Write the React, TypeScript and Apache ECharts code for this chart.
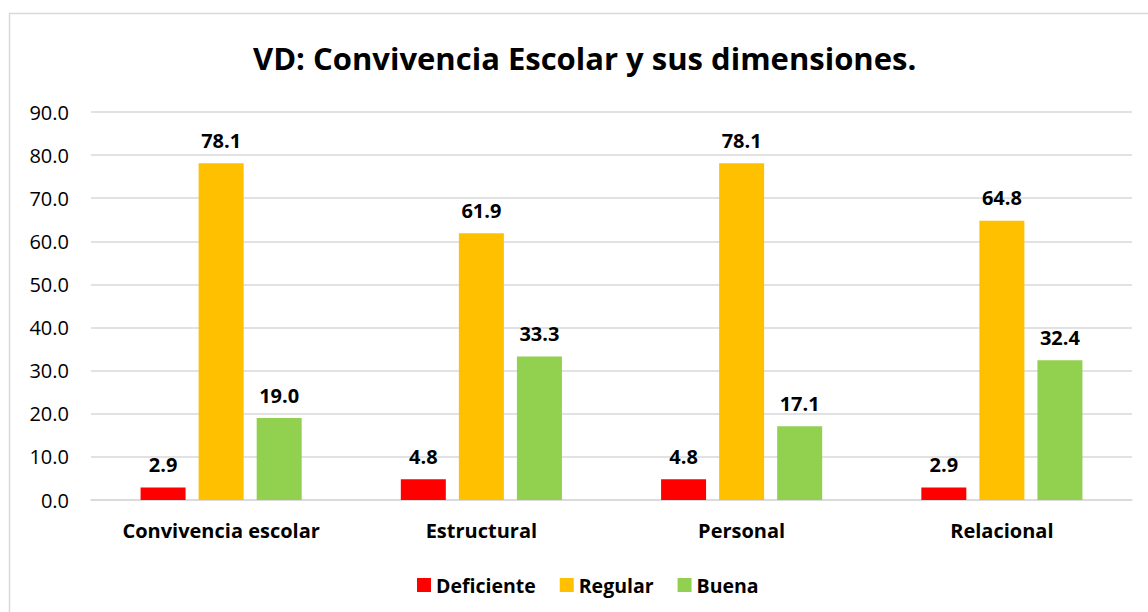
import React, { useEffect, useRef } from "react";
import * as echarts from "echarts";

const categories = ["Convivencia escolar", "Estructural", "Personal", "Relacional"];
const deficiente = [2.9, 4.8, 4.8, 2.9];
const regular = [78.1, 61.9, 78.1, 64.8];
const buena = [19.0, 33.3, 17.1, 32.4];
const seriesNames = ["Deficiente", "Regular", "Buena"];
const colors = ["#FF0000", "#FFC000", "#92D050"];

const FONT = "'Open Sans', 'Noto Sans', sans-serif";

export default function App() {
  const ref = useRef<HTMLDivElement>(null);
  useEffect(() => {
    if (!ref.current) return;
    const chart = echarts.init(ref.current, null, { renderer: "svg" });
    const data = [deficiente, regular, buena];
    chart.setOption({
      animation: false,
      backgroundColor: "#ffffff",
      textStyle: { fontFamily: FONT },
      title: {
        text: "VD: Convivencia Escolar y sus dimensiones.",
        left: 248,
        top: 37,
        textStyle: { fontSize: 31, fontWeight: "bold", color: "#000", fontFamily: FONT },
      },
      graphic: [
        {
          type: "rect",
          shape: { x: 9.5, y: 13.5, width: 1200, height: 700 },
          style: { fill: "none", stroke: "#d9d9d9", lineWidth: 1.5 },
          silent: true,
        },
      ],
      legend: {
        bottom: 12,
        left: 412,
        itemWidth: 14,
        itemHeight: 14,
        itemGap: 24,
        icon: "rect",
        textStyle: { fontSize: 19.5, fontWeight: "bold", color: "#000", fontFamily: FONT },
        data: seriesNames,
      },
      grid: { left: 91, right: 16, top: 112, bottom: 112, containLabel: false },
      xAxis: {
        type: "category",
        data: categories,
        axisLine: { show: true, lineStyle: { color: "#d9d9d9", width: 1.5 } },
        axisTick: { show: false },
        axisLabel: { fontSize: 20, fontWeight: "bold", color: "#000", margin: 20, fontFamily: FONT },
      },
      yAxis: {
        type: "value",
        min: 0,
        max: 90,
        interval: 10,
        axisLine: { show: false },
        axisTick: { show: false },
        splitLine: { lineStyle: { color: "#d9d9d9", width: 1.5 } },
        axisLabel: {
          fontSize: 20,
          color: "#000",
          margin: 22,
          fontFamily: FONT,
          formatter: (v: number) => v.toFixed(1),
        },
      },
      series: seriesNames.map((name, i) => ({
        name,
        type: "bar",
        data: data[i],
        barWidth: 45,
        barGap: "29%",
        itemStyle: { color: colors[i] },
        label: {
          show: true,
          position: "top",
          distance: 13,
          fontSize: 20,
          fontWeight: "bold",
          color: "#000",
          fontFamily: FONT,
          formatter: (p: any) => Number(p.value).toFixed(1),
        },
      })),
    });
    return () => chart.dispose();
  }, []);
  return (
    <div
      ref={ref}
      style={{ position: "fixed", left: 0, top: 0, width: 1148, height: 612 }}
    />
  );
}
